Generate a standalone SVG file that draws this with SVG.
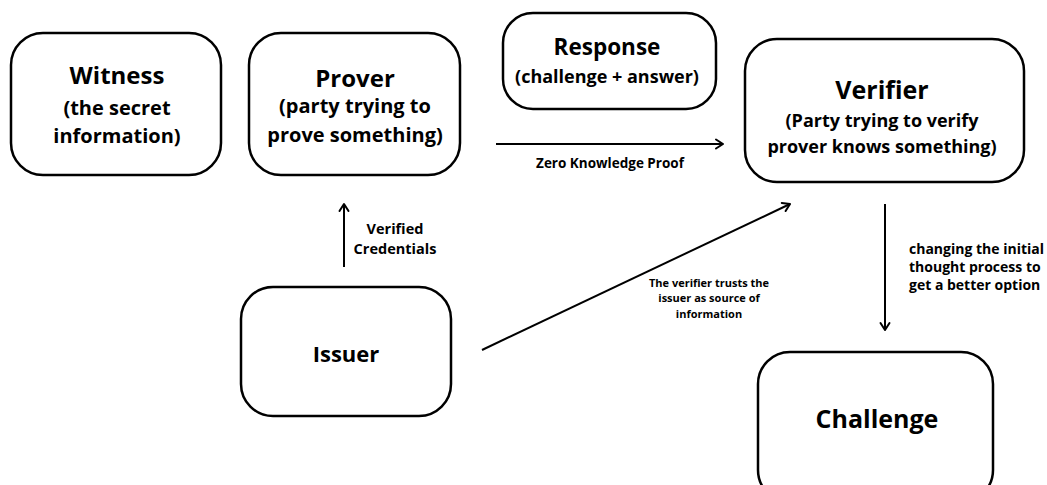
<svg xmlns="http://www.w3.org/2000/svg" width="1047" height="485" viewBox="0 0 1047 485">
<style>
.box{fill:#fff;stroke:#000;stroke-width:2.5}
text{font-family:"Open Sans","Liberation Sans",sans-serif;font-weight:700;fill:#000;text-anchor:middle}
.t24{font-size:24px}
.t20{font-size:20px}
.t18{font-size:18px}
.lbl{font-size:14.5px}
.side{font-size:14px;text-anchor:start}
.sm{font-size:11px}
.conn{stroke:#000;stroke-width:2;fill:none;marker-end:url(#arr)}
</style>
<defs>
<marker id="arr" viewBox="0 0 12 12" refX="10" refY="6" markerWidth="12" markerHeight="12" markerUnits="userSpaceOnUse" orient="auto">
<path d="M3,1.5 L10,6 L3,10.5" fill="none" stroke="#000" stroke-width="2" stroke-linecap="round" stroke-linejoin="round"/>
</marker>
</defs>
<rect width="1047" height="485" fill="#fff"/>
<g id="witness">
<rect class="box" x="11" y="33" width="210" height="142" rx="32"/>
<text class="t24" x="117" y="84">Witness</text>
<text class="t20" x="117" y="115">(the secret</text>
<text class="t20" x="117" y="143">information)</text>
</g>
<g id="prover">
<rect class="box" x="249" y="33" width="211" height="142" rx="32"/>
<text class="t24" x="355" y="87">Prover</text>
<text class="t20" x="355" y="113">(party trying to</text>
<text class="t20" x="355" y="142">prove something)</text>
</g>
<g id="response">
<rect class="box" x="503" y="13" width="213" height="96" rx="30"/>
<text class="t24" x="607" y="55" style="font-size:22.5px">Response</text>
<text class="t18" x="607" y="83">(challenge + answer)</text>
</g>
<g id="verifier">
<rect class="box" x="745" y="39" width="279" height="143" rx="32"/>
<text class="t24" x="882" y="99" style="font-size:25px">Verifier</text>
<text class="t18" x="882" y="127">(Party trying to verify</text>
<text class="t18" x="882" y="153">prover knows something)</text>
</g>
<g id="issuer">
<rect class="box" x="241" y="287" width="210" height="129" rx="32"/>
<text class="t24" x="346" y="362" style="font-size:22px">Issuer</text>
</g>
<g id="challenge">
<rect class="box" x="758" y="352" width="235" height="150" rx="32"/>
<text class="t24" x="877" y="428" style="font-size:25px">Challenge</text>
</g>
<g id="connectors">
<line class="conn" x1="496" y1="144" x2="723" y2="144"/>
<line class="conn" x1="344" y1="267" x2="344" y2="204"/>
<line class="conn" x1="482" y1="350" x2="790" y2="204"/>
<line class="conn" x1="885" y1="204" x2="885" y2="330"/>
</g>
<g id="labels">
<text class="lbl" x="610" y="168" style="font-size:13.5px">Zero Knowledge Proof</text>
<text class="lbl" x="395" y="234">Verified</text>
<text class="lbl" x="395" y="254">Credentials</text>
<text class="sm" x="709" y="287">The verifier trusts the</text>
<text class="sm" x="709" y="302">issuer as source of</text>
<text class="sm" x="709" y="318">information</text>
<text class="side" x="909" y="254">changing the initial</text>
<text class="side" x="909" y="272">thought process to</text>
<text class="side" x="909" y="290">get a better option</text>
</g>
</svg>
